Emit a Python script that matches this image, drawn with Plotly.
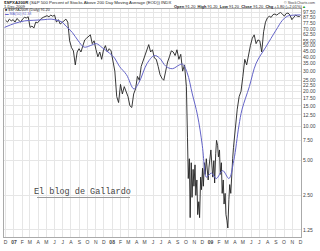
import plotly.graph_objects as go
import pandas as pd

# ---- data ----
dates = [
    "2006-12-01", "2006-12-08", "2006-12-15", "2006-12-22", "2006-12-29",
    "2007-01-05", "2007-01-12", "2007-01-19", "2007-01-26",
    "2007-02-02", "2007-02-09", "2007-02-16", "2007-02-23", "2007-03-02",
    "2007-03-09", "2007-03-16", "2007-03-23", "2007-03-30",
    "2007-04-06", "2007-04-13", "2007-04-20", "2007-04-27",
    "2007-05-04", "2007-05-11", "2007-05-18", "2007-05-25",
    "2007-06-01", "2007-06-08", "2007-06-15", "2007-06-22", "2007-06-29",
    "2007-07-06", "2007-07-13", "2007-07-20", "2007-07-27",
    "2007-08-03", "2007-08-10", "2007-08-17", "2007-08-24", "2007-08-31",
    "2007-09-07", "2007-09-14", "2007-09-21", "2007-09-28",
    "2007-10-05", "2007-10-12", "2007-10-19", "2007-10-26",
    "2007-11-02", "2007-11-09", "2007-11-16", "2007-11-23", "2007-11-30",
    "2007-12-07", "2007-12-14", "2007-12-21", "2007-12-28",
    "2008-01-04", "2008-01-11", "2008-01-18", "2008-01-25",
    "2008-02-01", "2008-02-08", "2008-02-15", "2008-02-22", "2008-02-29",
    "2008-03-07", "2008-03-14", "2008-03-21", "2008-03-28",
    "2008-04-04", "2008-04-11", "2008-04-18", "2008-04-25",
    "2008-05-02", "2008-05-09", "2008-05-16", "2008-05-23", "2008-05-30",
    "2008-06-06", "2008-06-13", "2008-06-20", "2008-06-27",
    "2008-07-04", "2008-07-11", "2008-07-18", "2008-07-25",
    "2008-08-01", "2008-08-08", "2008-08-15", "2008-08-22", "2008-08-29",
    "2008-09-05", "2008-09-12", "2008-09-19", "2008-09-26",
    "2008-10-03", "2008-10-07", "2008-10-10", "2008-10-14", "2008-10-17",
    "2008-10-21", "2008-10-24", "2008-10-28", "2008-10-31",
    "2008-11-04", "2008-11-07", "2008-11-11", "2008-11-14", "2008-11-18",
    "2008-11-21", "2008-11-25", "2008-11-28",
    "2008-12-02", "2008-12-05", "2008-12-09", "2008-12-12", "2008-12-16",
    "2008-12-19", "2008-12-23", "2008-12-26", "2008-12-30",
    "2009-01-02", "2009-01-06", "2009-01-09", "2009-01-13", "2009-01-16",
    "2009-01-20", "2009-01-23", "2009-01-27", "2009-01-30",
    "2009-02-03", "2009-02-06", "2009-02-10", "2009-02-13", "2009-02-17",
    "2009-02-20", "2009-02-24", "2009-02-27",
    "2009-03-03", "2009-03-06", "2009-03-10", "2009-03-13", "2009-03-17",
    "2009-03-20", "2009-03-24", "2009-03-27",
    "2009-04-03", "2009-04-10", "2009-04-17", "2009-04-24",
    "2009-05-01", "2009-05-08", "2009-05-15", "2009-05-22", "2009-05-29",
    "2009-06-05", "2009-06-12", "2009-06-19", "2009-06-26",
    "2009-07-03", "2009-07-10", "2009-07-17", "2009-07-24", "2009-07-31",
    "2009-08-07", "2009-08-14", "2009-08-21", "2009-08-28",
    "2009-09-04", "2009-09-11", "2009-09-18", "2009-09-25",
    "2009-10-02", "2009-10-09", "2009-10-16", "2009-10-23", "2009-10-30",
    "2009-11-06", "2009-11-13", "2009-11-20", "2009-11-27", "2009-12-01",
]
spxa200r = [
    83, 80, 85, 82, 84,
    80, 86, 83, 80,
    85, 88, 87, 89, 72,
    74, 71, 80, 79,
    83, 86, 88, 90,
    91, 89, 92, 90,
    92, 80, 84, 77, 79,
    82, 85, 80, 55,
    48, 45, 34, 44, 47,
    44, 50, 56, 58,
    60, 62, 52, 55,
    46, 40, 44, 38, 46,
    50, 44, 47, 45,
    37, 30, 18, 16,
    23, 19, 22, 20, 18,
    15, 14.5, 19, 21,
    27, 25, 33, 37,
    42, 47, 51, 44, 46,
    39, 38, 33, 28,
    26, 25, 30, 36,
    40, 45, 44, 41, 46,
    38, 42, 30, 34,
    22, 8, 3.5, 5.2, 1.6,
    4.8, 2.4, 4.2, 3.0,
    4.6, 2.5, 3.4, 1.7, 2.2,
    1.6, 3.6, 2.8,
    4.3, 3.0, 4.8, 3.8, 5.2,
    4.0, 3.4, 4.4, 5.5,
    6.2, 4.5, 3.6, 5.0, 3.2,
    5.8, 7.5, 6.8, 5.4,
    6.2, 3.8, 4.8, 2.6, 3.4,
    2.1, 2.6, 1.7,
    1.5, 1.3, 2.3, 3.1, 2.6,
    4.0, 5.2, 6.5,
    10, 14, 18, 20,
    27, 38, 34, 42, 50,
    58, 62, 52, 56,
    55, 44, 66, 80, 87,
    90, 88, 93, 94,
    92, 95, 97, 94,
    90, 95, 96, 92, 84,
    88, 92, 90, 89.5, 91.2,
]

ma_dates = [
    "2006-11-27", "2007-01-04", "2007-02-10", "2007-03-16", "2007-04-23",
    "2007-05-19", "2007-06-10", "2007-06-29", "2007-07-13", "2007-08-06",
    "2007-08-28", "2007-09-19", "2007-10-12", "2007-11-03", "2007-11-25",
    "2007-12-22", "2008-01-10", "2008-01-28", "2008-02-23", "2008-03-22",
    "2008-04-10", "2008-05-10", "2008-06-06", "2008-06-25", "2008-07-19",
    "2008-08-12", "2008-09-07", "2008-09-19", "2008-10-06", "2008-10-25",
    "2008-11-13", "2008-12-01", "2008-12-10", "2008-12-16", "2009-01-04",
    "2009-01-22", "2009-02-15", "2009-03-10", "2009-03-28", "2009-04-16",
    "2009-04-28", "2009-05-25", "2009-06-19", "2009-07-25", "2009-09-01",
    "2009-09-25", "2009-10-13", "2009-11-07", "2009-12-01",
]
ma50 = [
    72, 78, 82, 83, 84,
    85, 83, 80, 74, 65,
    55, 48.5, 50, 52, 48,
    43, 39, 33, 28, 21,
    24, 35, 41, 39, 33,
    31.5, 34, 34.5, 29, 19,
    12.5, 6.8, 4.2, 3.6, 3.9,
    3.5, 4.1, 3.5, 5.0, 10,
    14, 22, 35, 48.5, 68,
    83, 90, 92, 92.38,
]

ytick_vals = [1.25, 2.5, 5, 7.5, 10, 12.5, 15, 17.5, 20, 22.5, 25, 30,
              35, 40, 45, 50, 55, 62.5, 70, 77.5, 87.5, 97.5]
month_starts = pd.date_range("2006-12-01", "2009-12-01", freq="MS")
month_letters = ["J", "F", "M", "A", "M", "J", "J", "A", "S", "O", "N", "D"]
month_text = [("<b>%02d</b>" % (d.year % 100)) if d.month == 1 else month_letters[d.month - 1]
              for d in month_starts]

# ---- figure ----
fig = go.Figure()
fig.add_trace(go.Scatter(x=dates, y=spxa200r, mode="lines",
                         line=dict(color="#222222", width=0.9), showlegend=False))
fig.add_trace(go.Scatter(x=ma_dates, y=ma50, mode="lines", line_shape="spline",
                         line=dict(color="#6464c8", width=1), showlegend=False))

font = "Liberation Sans, Arial, sans-serif"
fig.update_layout(
    width=320, height=251,
    margin=dict(l=4, r=19, t=9, b=14),
    paper_bgcolor="white", plot_bgcolor="white",
    font=dict(family=font, size=5, color="#333"),
    xaxis=dict(type="date", range=["2006-11-25", "2009-12-03"],
               tickmode="array", tickvals=month_starts, ticktext=month_text,
               tickfont=dict(size=5, color="#444"), tickangle=0,
               showgrid=True, gridcolor="#e6e6e6", gridwidth=1,
               showline=True, linecolor="#aaaaaa", linewidth=1, mirror=True,
               ticks="", zeroline=False),
    yaxis=dict(type="log", range=[0.0359, 2.017], side="right",
               tickmode="array", tickvals=ytick_vals,
               ticktext=["%.2f" % v for v in ytick_vals],
               tickfont=dict(size=5, color="#444"),
               showgrid=True, gridcolor="#e6e6e6", gridwidth=1,
               showline=True, linecolor="#aaaaaa", linewidth=1, mirror=True,
               ticks="", zeroline=False),
)

def px(x):
    return (x - 4) / 297.0

def py(y):
    return (237 - y) / 228.0

ann = [
    dict(text="<b>$SPXA200R</b> (S&P 500 Percent of Stocks Above 200 Day Moving Average (EOD)) INDX",
         x=px(2), y=py(2.5), xanchor="left", yanchor="middle", font=dict(size=4.3, color="#222")),
    dict(text="1-Dec-2009", x=px(2), y=py(6.2), xanchor="left", yanchor="middle",
         font=dict(size=4, color="#222")),
    dict(text="© StockCharts.com", x=px(317), y=py(2.5), xanchor="right", yanchor="middle",
         font=dict(size=3.6, color="#444")),
    dict(text="<b>Open</b> 91.20  <b>High</b> 91.20  <b>Low</b> 91.20  <b>Close</b> 91.20  "
              "<b>Chg</b> +1.80 (+2.01%)<span style='color:#1a9a1a'>▲</span>",
         x=px(308), y=py(6.2), xanchor="right", yanchor="middle", font=dict(size=4, color="#222")),
    dict(text="<span style='color:#222'>■</span> $SPXA200R (Daily) 91.20",
         x=px(3), y=py(10), xanchor="left", yanchor="middle", font=dict(size=3.6, color="#222")),
    dict(text="<span style='color:#6464c8'>▬</span> MA(50) 92.38",
         x=px(3), y=py(13.5), xanchor="left", yanchor="middle", font=dict(size=3.6, color="#6464c8")),
    dict(text="El blog de Gallardo", x=px(82), y=py(192), xanchor="center", yanchor="middle",
         font=dict(family="Liberation Mono, Courier New, monospace", size=8.5, color="#444")),
]
for a in ann:
    a.update(xref="paper", yref="paper", showarrow=False)
fig.update_layout(annotations=ann)
fig.add_shape(type="line", xref="paper", yref="paper", x0=px(37), x1=px(130),
              y0=py(197.5), y1=py(197.5), line=dict(color="#999", width=1.2))

fig.write_html("out.html")
